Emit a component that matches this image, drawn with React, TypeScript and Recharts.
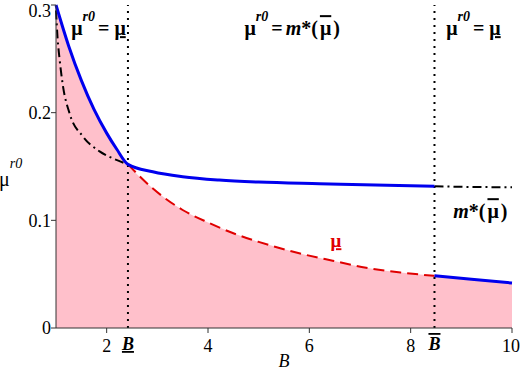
import React from 'react';
import {
  ComposedChart,
  Area,
  Line,
  XAxis,
  YAxis,
  ReferenceLine,
  ReferenceDot,
} from 'recharts';

// lower bound mu_(B)
const bLow = [1.0, 1.25, 1.5, 1.75, 2.0, 2.2, 2.42, 2.9, 3.5, 4.0, 4.5, 5.0, 5.8, 6.46, 7.12, 7.8, 8.47, 9.2, 10];
const muLow = [0.3, 0.262, 0.23, 0.203, 0.181, 0.166, 0.152, 0.13, 0.1096, 0.098, 0.088, 0.08, 0.0694, 0.0625, 0.056, 0.0515, 0.0485, 0.0452, 0.0418];

// m*(mu-bar)(B)
const bStar = [1.0, 1.03, 1.07, 1.13, 1.27, 1.53, 1.86, 2.1, 2.42, 2.91, 3.5, 4.22, 5.0, 6.2, 7.3, 8.47, 9.2, 10];
const mStar = [0.295, 0.27, 0.25, 0.227, 0.199, 0.178, 0.164, 0.158, 0.152, 0.1451, 0.1405, 0.1374, 0.1355, 0.134, 0.1328, 0.1316, 0.131, 0.1307];

const bUnder = 2.42;
const bOver = 8.47;
const xTicks = [2, 4, 6, 8, 10];
const yTicks = [0, 0.1, 0.2, 0.3];

const FONT = 'Liberation Serif, DejaVu Serif, serif';
const serif = { fontFamily: FONT };

const allB = Array.from(new Set([...bLow, ...bStar])).sort((a, b) => a - b);
const rows = allB.map((B) => {
  const i = bLow.indexOf(B);
  const j = bStar.indexOf(B);
  const low = i >= 0 ? muLow[i] : undefined;
  const star = j >= 0 ? mStar[j] : undefined;
  return {
    B,
    low,
    blueA: B <= bUnder ? low : B <= bOver ? star : undefined,
    blueB: B >= bOver ? low : undefined,
    redMid: B >= bUnder && B <= bOver ? low : undefined,
    mLeft: B <= bUnder ? star : undefined,
    mRight: B >= bOver ? star : undefined,
  };
});

const note = (key, x, y, render) => (
  <ReferenceDot
    key={key}
    x={x}
    y={y}
    r={1}
    ifOverflow="visible"
    shape={(p) => render(p.cx, p.cy)}
  />
);

const muEq = (cx, cy, rhs) => (
  <text x={cx} y={cy} style={serif} fontWeight="bold" fontSize={20} fill="#000">
    <tspan>μ</tspan>
    <tspan dy={-14} fontSize={14} fontStyle="italic">r0</tspan>
    <tspan dy={14} dx={3}>=</tspan>
    {rhs}
  </text>
);

export default function App() {
  return (
    <div style={{ position: 'absolute', left: 0, top: 0, background: '#fff', fontFamily: FONT }}>
      <ComposedChart
        width={520}
        height={371}
        data={rows}
        margin={{ top: 5, right: 8, left: 0, bottom: 13 }}
        style={serif}
      >
        <XAxis
          dataKey="B"
          type="number"
          domain={[1, 10]}
          ticks={xTicks}
          height={30}
          tickSize={5}
          tickMargin={6}
          stroke="#333"
          tick={{ fill: '#000', style: serif, fontFamily: FONT, fontSize: 18 }}
        />
        <YAxis
          type="number"
          domain={[0, 0.3]}
          ticks={yTicks}
          width={56}
          tickSize={5}
          tickMargin={0}
          stroke="#333"
          tick={{ fill: '#000', style: serif, fontFamily: FONT, fontSize: 18 }}
        />
        <Area
          type="monotone"
          dataKey="low"
          stroke="none"
          fill="#ffc0cb"
          fillOpacity={1}
          connectNulls
          isAnimationActive={false}
        />
        <ReferenceLine x={bUnder} stroke="#000" strokeWidth={2} strokeDasharray="2 5" />
        <ReferenceLine x={bOver} stroke="#000" strokeWidth={2} strokeDasharray="2 5" />
        <Line
          type="monotone"
          dataKey="redMid"
          stroke="#e00000"
          strokeWidth={2}
          strokeDasharray="11 6"
          dot={false}
          activeDot={false}
          connectNulls
          isAnimationActive={false}
        />
        <Line
          type="monotone"
          dataKey="mLeft"
          stroke="#000"
          strokeWidth={2}
          strokeDasharray="9 4 2 4"
          dot={false}
          activeDot={false}
          connectNulls
          isAnimationActive={false}
        />
        <Line
          type="monotone"
          dataKey="mRight"
          stroke="#000"
          strokeWidth={2}
          strokeDasharray="9 4 2 4"
          dot={false}
          activeDot={false}
          connectNulls
          isAnimationActive={false}
        />
        <Line
          type="monotone"
          dataKey="blueA"
          stroke="#0000ee"
          strokeWidth={3}
          dot={false}
          activeDot={false}
          connectNulls
          isAnimationActive={false}
        />
        <Line
          type="monotone"
          dataKey="blueB"
          stroke="#0000ee"
          strokeWidth={3}
          dot={false}
          activeDot={false}
          connectNulls
          isAnimationActive={false}
        />
        {note('lbl-left', 1.3, 0.272, (cx, cy) =>
          muEq(cx, cy, <tspan dx={5} textDecoration="underline">μ</tspan>)
        )}
        {note('lbl-mid', 4.72, 0.272, (cx, cy) =>
          muEq(cx, cy, [
            <tspan key="m" dx={3} fontStyle="italic">m</tspan>,
            <tspan key="s">*(</tspan>,
            <tspan key="u" dx={2} textDecoration="overline">μ</tspan>,
            <tspan key="p" dx={2}>)</tspan>,
          ])
        )}
        {note('lbl-right', 8.7, 0.272, (cx, cy) =>
          muEq(cx, cy, <tspan dx={5} textDecoration="underline">μ</tspan>)
        )}
        {note('lbl-mstar', 8.84, 0.102, (cx, cy) => (
          <text x={cx} y={cy} style={serif} fontWeight="bold" fontSize={20} fill="#000">
            <tspan fontStyle="italic">m</tspan>
            <tspan>*(</tspan>
            <tspan dx={2} textDecoration="overline">μ</tspan>
            <tspan dx={2}>)</tspan>
          </text>
        ))}
        {note('lbl-red', 6.42, 0.075, (cx, cy) => (
          <text x={cx} y={cy} style={serif} fontWeight="bold" fontSize={19} fill="#e00000" textDecoration="underline">
            μ
          </text>
        ))}
        {note('lbl-bunder', bUnder, 0, (cx, cy) => (
          <text x={cx} y={cy + 22} textAnchor="middle" style={serif} fontWeight="bold" fontStyle="italic" fontSize={18} fill="#000" textDecoration="underline">
            B
          </text>
        ))}
        {note('lbl-bover', bOver, 0, (cx, cy) => (
          <text x={cx} y={cy + 22} textAnchor="middle" style={serif} fontWeight="bold" fontStyle="italic" fontSize={18} fill="#000" textDecoration="overline">
            B
          </text>
        ))}
        {note('lbl-xaxis', 5.5, 0, (cx, cy) => (
          <text x={cx} y={cy + 39} textAnchor="middle" style={serif} fontStyle="italic" fontSize={18} fill="#000">
            B
          </text>
        ))}
        {note('lbl-yaxis', 1, 0.132, (cx, cy) => (
          <text x={cx - 57} y={cy} style={serif} fontSize={20} fill="#000">
            <tspan>μ</tspan>
            <tspan dy={-18} fontSize={14} fontStyle="italic">r0</tspan>
          </text>
        ))}
      </ComposedChart>
    </div>
  );
}
